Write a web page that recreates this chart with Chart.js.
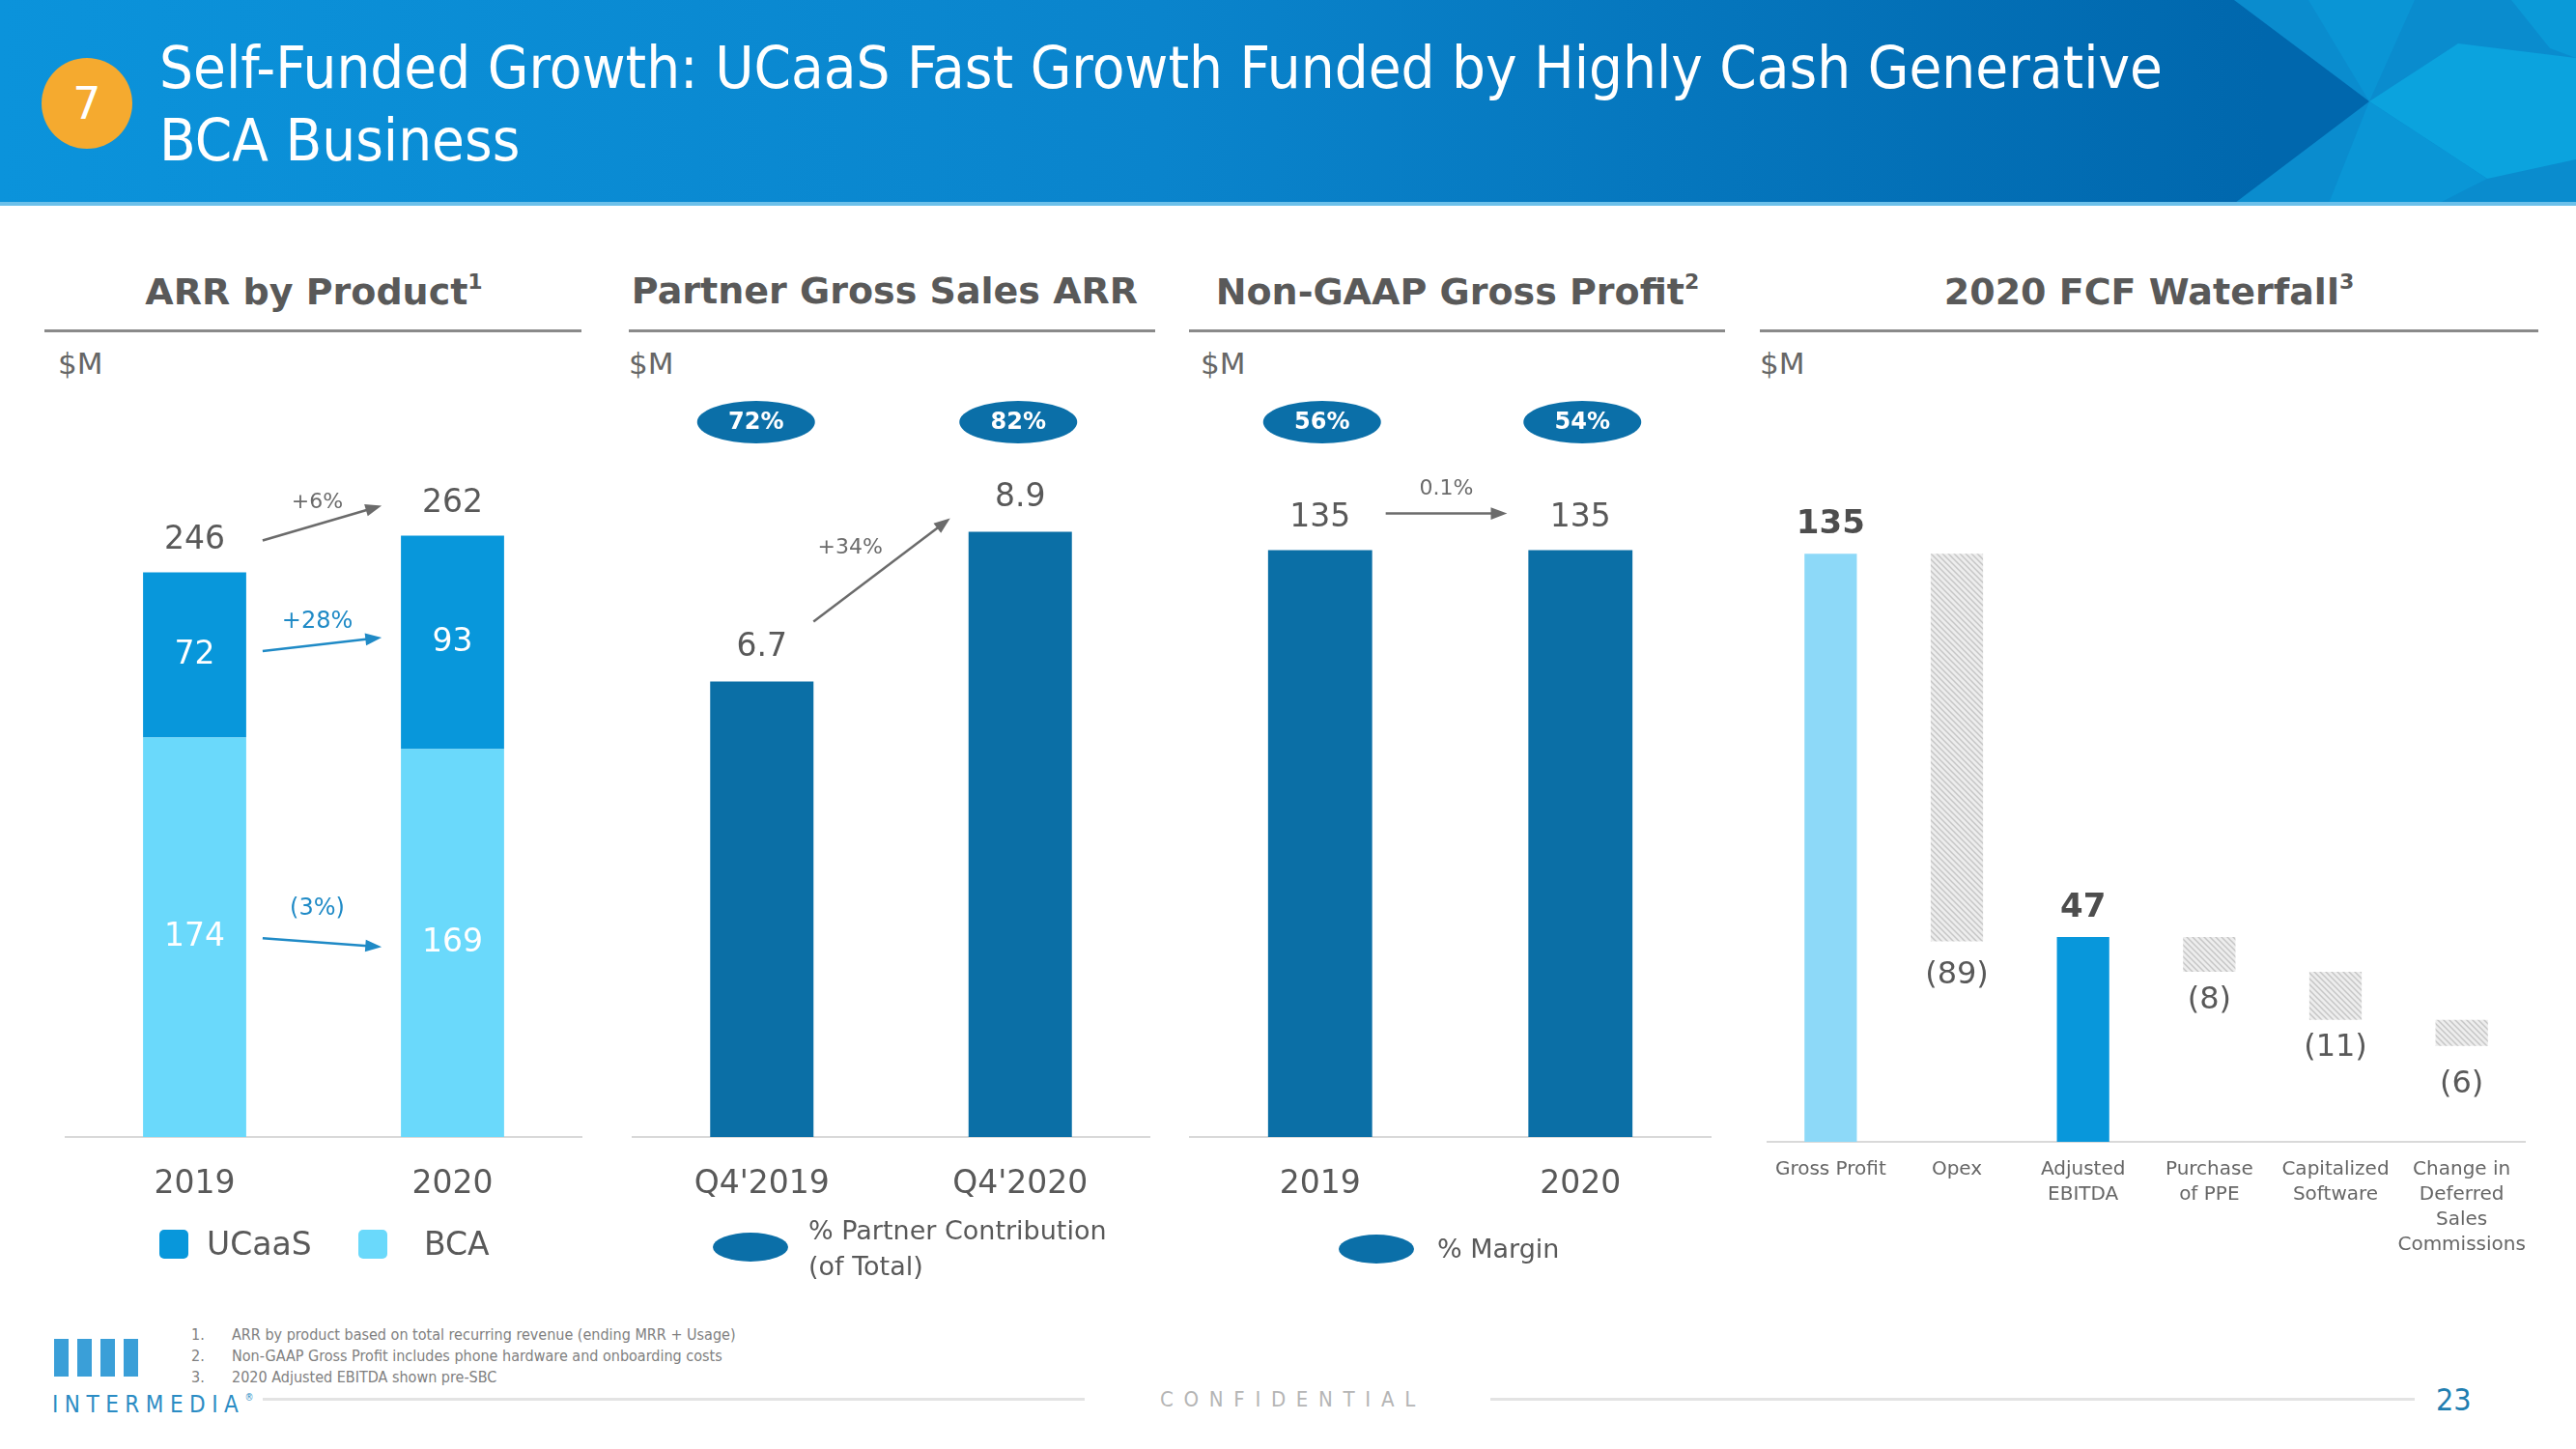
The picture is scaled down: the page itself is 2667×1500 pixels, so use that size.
<!DOCTYPE html>
<html>
<head>
<meta charset="utf-8">
<script src="https://cdn.jsdelivr.net/npm/chart.js@4.4.1/dist/chart.umd.min.js"></script>
<style>
  html, body { margin: 0; padding: 0; background: #fff; }
  body { width: 2667px; height: 1500px; position: relative; overflow: hidden; font-family: "DejaVu Sans", sans-serif; color: #595959; }
  .abs { position: absolute; }
  #banner { left: 0; top: 0; width: 2667px; height: 213px; }
  #badge7 { left: 43px; top: 60px; width: 94px; height: 94px; border-radius: 50%; background: #f5aa2f;
            color: #fff; font-size: 46px; line-height: 94px; text-align: center; }
  #title { left: 165px; top: 33px; color: #fff; font-family: "DejaVu Sans Condensed", "DejaVu Sans", sans-serif;
           font-size: 60px; line-height: 75px; white-space: nowrap; transform-origin: left top; }
  .sect { font-weight: bold; font-size: 38px; color: #595959; white-space: nowrap; transform: translate(-50%, -50%); }
  .sect sup { font-size: 22px; font-weight: bold; vertical-align: 16px; }
  .rule { height: 3px; background: #8a8a8a; top: 341px; }
  .unit { top: 358px; font-size: 31px; color: #666; }
  canvas { position: absolute; top: 350px; }
  .leg { font-size: 33px; color: #595959; white-space: nowrap; }
  .sq { width: 30px; height: 30px; border-radius: 5px; }
  .oval { width: 78px; height: 30px; border-radius: 50%; background: #0b6fa8; }
  .leg2 { font-size: 27px; line-height: 37px; color: #595959; white-space: nowrap; }
  .foot { font-family: "DejaVu Sans Condensed", "DejaVu Sans", sans-serif; font-size: 16px; color: #808080; white-space: nowrap; }
  .fline { height: 3px; background: #e3e3e3; top: 1447px; }
</style>
</head>
<body>

<svg id="banner" class="abs" viewBox="0 0 2667 213" width="2667" height="213">
  <defs>
    <linearGradient id="bg" x1="0" y1="0" x2="1" y2="0">
      <stop offset="0" stop-color="#0b93db"/>
      <stop offset="0.45" stop-color="#0a84cc"/>
      <stop offset="0.88" stop-color="#0067ad"/>
      <stop offset="1" stop-color="#0067ad"/>
    </linearGradient>
  </defs>
  <rect x="0" y="0" width="2667" height="213" fill="url(#bg)"/>
  <polygon points="2313,0 2667,0 2667,213 2310,213 2453,105" fill="#0a8cce"/>
  <polygon points="2390,0 2500,0 2453,105" fill="#0a95d5"/>
  <polygon points="2453,105 2545,45 2667,60 2667,165 2575,185" fill="#0ba3de"/>
  <polygon points="2453,105 2575,185 2520,213 2410,213" fill="#0a96d6"/>
  <polygon points="2600,0 2667,0 2667,60 2640,50" fill="#0a9ad8"/>
  <rect x="0" y="209" width="2667" height="4" fill="#6cc0ea"/>
</svg>
<div id="badge7" class="abs">7</div>
<div id="title" class="abs"><span id="t1">Self-Funded Growth: UCaaS Fast Growth Funded by Highly Cash Generative</span><br>BCA Business</div>

<!-- section headers -->
<div class="abs sect" style="left:325px; top:301px;">ARR by Product<sup>1</sup></div>
<div class="abs sect" style="left:916px; top:301px;">Partner Gross Sales ARR</div>
<div class="abs sect" style="left:1509px; top:301px;">Non-GAAP Gross Profit<sup>2</sup></div>
<div class="abs sect" style="left:2225px; top:301px;">2020 FCF Waterfall<sup>3</sup></div>
<div class="abs rule" style="left:46px; width:556px;"></div>
<div class="abs rule" style="left:651px; width:545px;"></div>
<div class="abs rule" style="left:1231px; width:555px;"></div>
<div class="abs rule" style="left:1822px; width:806px;"></div>
<div class="abs unit" style="left:60px;">$M</div>
<div class="abs unit" style="left:651px;">$M</div>
<div class="abs unit" style="left:1243px;">$M</div>
<div class="abs unit" style="left:1822px;">$M</div>

<canvas id="c1" width="610" height="980" style="left:20px;"></canvas>
<canvas id="c2" width="590" height="980" style="left:630px;"></canvas>
<canvas id="c3" width="580" height="980" style="left:1220px;"></canvas>
<canvas id="c4" width="860" height="980" style="left:1800px;"></canvas>

<!-- legends -->
<div class="abs sq" style="left:165px; top:1273px; background:#0897db;"></div>
<div class="abs leg" style="left:214px; top:1268px;">UCaaS</div>
<div class="abs sq" style="left:371px; top:1273px; background:#6ad9fb;"></div>
<div class="abs leg" style="left:439px; top:1268px;">BCA</div>

<div class="abs oval" style="left:738px; top:1276px;"></div>
<div class="abs leg2" style="left:837px; top:1255px;">% Partner Contribution<br>(of Total)</div>

<div class="abs oval" style="left:1386px; top:1278px;"></div>
<div class="abs leg2" style="left:1488px; top:1274px;">% Margin</div>

<!-- footer -->
<div class="abs" style="left:56px; top:1386px; width:15px; height:39px; background:#3a9fd8;"></div>
<div class="abs" style="left:80px; top:1386px; width:15px; height:39px; background:#3a9fd8;"></div>
<div class="abs" style="left:104px; top:1386px; width:15px; height:39px; background:#3a9fd8;"></div>
<div class="abs" style="left:128px; top:1386px; width:15px; height:39px; background:#3a9fd8;"></div>
<div class="abs" style="left:54px; top:1440px; font-size:24px; letter-spacing:6.5px; color:#2b8cc4; font-family:'DejaVu Sans Condensed','DejaVu Sans',sans-serif;">INTERMEDIA<span style="font-size:10px; vertical-align:12px; letter-spacing:0;">®</span></div>

<div class="abs foot" style="left:198px; top:1371px; line-height:22px;">1.<br>2.<br>3.</div>
<div class="abs foot" style="left:240px; top:1371px; line-height:22px;">ARR by product based on total recurring revenue (ending MRR + Usage)<br>Non-GAAP Gross Profit includes phone hardware and onboarding costs<br>2020 Adjusted EBITDA shown pre-SBC</div>

<div class="abs fline" style="left:272px; width:851px;"></div>
<div class="abs" style="left:1201px; top:1436px; font-size:22px; letter-spacing:10.7px; color:#b5b5b5; font-family:'DejaVu Sans Condensed','DejaVu Sans',sans-serif;">CONFIDENTIAL</div>
<div class="abs fline" style="left:1543px; width:957px;"></div>
<div class="abs" style="left:2522px; top:1430px; font-size:32px; color:#1f7eb0; font-family:'DejaVu Sans Condensed','DejaVu Sans',sans-serif;">23</div>

<script>
// ---- data ----
const arrYears = ["2019", "2020"];
const ucaasArr = [72, 93];
const bcaArr = [174, 169];
const arrTotals = [246, 262];
const arrGrowth = ["+6%", "+28%", "(3%)"];   // total, UCaaS, BCA

const partnerQuarters = ["Q4'2019", "Q4'2020"];
const partnerArr = [6.7, 8.9];
const partnerPct = [72, 82];
const partnerGrowth = "+34%";

const gpYears = ["2019", "2020"];
const grossProfit = [135, 135];
const gpMargin = [56, 54];
const gpGrowth = "0.1%";

const fcfLabels = [["Gross Profit"], ["Opex"], ["Adjusted", "EBITDA"], ["Purchase", "of PPE"], ["Capitalized", "Software"], ["Change in", "Deferred", "Sales", "Commissions"]];
const fcfValues = [135, -89, 47, -8, -11, -6];
const fcfIsTotal = [true, false, true, false, false, false];

// ---- helpers ----
Chart.defaults.font.family = "'DejaVu Sans', sans-serif";
Chart.defaults.color = '#595959';

const GRAY = '#595959';

function arrow(ctx, x0, y0, x1, y1, color, lw) {
  const a = Math.atan2(y1 - y0, x1 - x0), h = 18;
  ctx.save();
  ctx.strokeStyle = color; ctx.fillStyle = color; ctx.lineWidth = lw || 2.5;
  ctx.beginPath();
  ctx.moveTo(x0, y0);
  ctx.lineTo(x1 - h * 0.8 * Math.cos(a), y1 - h * 0.8 * Math.sin(a));
  ctx.stroke();
  ctx.beginPath();
  ctx.moveTo(x1, y1);
  ctx.lineTo(x1 - h * Math.cos(a - 0.36), y1 - h * Math.sin(a - 0.36));
  ctx.lineTo(x1 - h * Math.cos(a + 0.36), y1 - h * Math.sin(a + 0.36));
  ctx.closePath();
  ctx.fill();
  ctx.restore();
}

function text(ctx, s, x, y, font, color) {
  ctx.font = font; ctx.fillStyle = color;
  ctx.textAlign = 'center'; ctx.textBaseline = 'middle';
  ctx.fillText(s, x, y);
}

function badge(ctx, s, x, y) {
  ctx.save();
  ctx.fillStyle = '#0b6fa8';
  ctx.beginPath(); ctx.ellipse(x, y, 61, 22, 0, 0, Math.PI * 2); ctx.fill();
  text(ctx, s, x, y + 1, "bold 24px 'DejaVu Sans'", '#fff');
  ctx.restore();
}

function hatch() {
  const c = document.createElement('canvas');
  c.width = 6; c.height = 6;
  const g = c.getContext('2d');
  g.fillStyle = '#ededed'; g.fillRect(0, 0, 6, 6);
  g.strokeStyle = '#c6c6c6'; g.lineWidth = 1.5;
  g.beginPath();
  g.moveTo(0, 0); g.lineTo(6, 6);
  g.moveTo(-3, 3); g.lineTo(3, 9);
  g.moveTo(3, -3); g.lineTo(9, 3);
  g.stroke();
  return g.createPattern(c, 'repeat');
}

function xAxis(h, fontSize, pad, color) {
  return {
    grid: { display: false, drawTicks: false },
    border: { display: true, color: '#d9d9d9', width: 2 },
    ticks: { font: { size: fontSize, lineHeight: 1.3 }, color: color || GRAY, padding: pad, autoSkip: false, maxRotation: 0 },
    afterFit(scale) { scale.height = h; }
  };
}

const baseOpts = {
  responsive: false,
  animation: false,
  plugins: { legend: { display: false }, tooltip: { enabled: false } }
};

// ---- chart 1: ARR by product ----
new Chart(document.getElementById('c1'), {
  type: 'bar',
  data: {
    labels: arrYears,
    datasets: [
      { label: 'BCA', data: bcaArr, backgroundColor: '#6ad9fb' },
      { label: 'UCaaS', data: ucaasArr, backgroundColor: '#0897db' }
    ]
  },
  options: {
    ...baseOpts,
    layout: { padding: { left: 48, right: 28, top: 50, bottom: 53 } },
    datasets: { bar: { categoryPercentage: 1, barPercentage: 0.4 } },
    scales: {
      x: { stacked: true, ...xAxis(100, 33, 28) },
      y: { stacked: true, display: false, min: 0, max: 327 }
    }
  },
  plugins: [{
    id: 'arrLabels',
    afterDatasetsDraw(chart) {
      const ctx = chart.ctx;
      const bca = chart.getDatasetMeta(0).data;
      const uc = chart.getDatasetMeta(1).data;
      const f = "33px 'DejaVu Sans'";
      const bcaMid = [], ucMid = [], totY = [];
      for (let i = 0; i < 2; i++) {
        bcaMid[i] = (bca[i].y + bca[i].base) / 2;
        ucMid[i] = (uc[i].y + uc[i].base) / 2;
        totY[i] = uc[i].y - 33;
        text(ctx, String(bcaArr[i]), bca[i].x, bcaMid[i], f, '#fff');
        text(ctx, String(ucaasArr[i]), uc[i].x, ucMid[i], f, '#fff');
        text(ctx, String(arrTotals[i]), uc[i].x, totY[i], f, GRAY);
      }
      const x0 = uc[0].x + uc[0].width / 2 + 17;
      const x1 = uc[1].x - uc[1].width / 2 - 20;
      const xm = (x0 + x1) / 2 - 5;
      arrow(ctx, x0, totY[0], x1, totY[1] + 2, '#6b6b6b', 2.5);
      text(ctx, arrGrowth[0], xm, (totY[0] + totY[1]) / 2 - 20, "22px 'DejaVu Sans'", '#6b6b6b');
      arrow(ctx, x0, ucMid[0] - 4, x1, ucMid[1] - 5, '#1f8ac6', 2.5);
      text(ctx, arrGrowth[1], xm, (ucMid[0] + ucMid[1]) / 2 - 28, "24px 'DejaVu Sans'", '#1f8ac6');
      arrow(ctx, x0, bcaMid[0] + 1, x1, bcaMid[1] + 4, '#1f8ac6', 2.5);
      text(ctx, arrGrowth[2], xm, (bcaMid[0] + bcaMid[1]) / 2 - 32, "24px 'DejaVu Sans'", '#1f8ac6');
    }
  }]
});

// ---- chart 2: partner gross sales ARR ----
new Chart(document.getElementById('c2'), {
  type: 'bar',
  data: { labels: partnerQuarters, datasets: [{ data: partnerArr, backgroundColor: '#0b6fa6' }] },
  options: {
    ...baseOpts,
    layout: { padding: { left: 25, right: 30, top: 50, bottom: 53 } },
    datasets: { bar: { categoryPercentage: 1, barPercentage: 0.4 } },
    scales: {
      x: xAxis(100, 33, 28),
      y: { display: false, min: 0, max: 11.04 }
    }
  },
  plugins: [{
    id: 'partnerLabels',
    afterDatasetsDraw(chart) {
      const ctx = chart.ctx;
      const bars = chart.getDatasetMeta(0).data;
      const top = chart.chartArea.top;
      bars.forEach((b, i) => {
        text(ctx, partnerArr[i].toFixed(1), b.x, b.y - 35, "33px 'DejaVu Sans'", GRAY);
        badge(ctx, partnerPct[i] + '%', b.x - 6 + i * 4, top + 37);
      });
      const x0 = bars[0].x + bars[0].width / 2, y0 = bars[0].y - 62;
      const x1 = bars[1].x - bars[1].width / 2 - 19, y1 = bars[1].y - 14;
      arrow(ctx, x0, y0, x1, y1, '#6b6b6b', 2.5);
      text(ctx, partnerGrowth, x0 + 38, y0 - 76, "22px 'DejaVu Sans'", '#6b6b6b');
    }
  }]
});

// ---- chart 3: non-GAAP gross profit ----
new Chart(document.getElementById('c3'), {
  type: 'bar',
  data: { labels: gpYears, datasets: [{ data: grossProfit, backgroundColor: '#0b6fa6' }] },
  options: {
    ...baseOpts,
    layout: { padding: { left: 12, right: 29, top: 50, bottom: 53 } },
    datasets: { bar: { categoryPercentage: 1, barPercentage: 0.4 } },
    scales: {
      x: xAxis(100, 33, 28),
      y: { display: false, min: 0, max: 172.7 }
    }
  },
  plugins: [{
    id: 'gpLabels',
    afterDatasetsDraw(chart) {
      const ctx = chart.ctx;
      const bars = chart.getDatasetMeta(0).data;
      const top = chart.chartArea.top;
      bars.forEach((b, i) => {
        text(ctx, String(grossProfit[i]), b.x, b.y - 33, "33px 'DejaVu Sans'", GRAY);
        badge(ctx, gpMargin[i] + '%', b.x + 2, top + 37);
      });
      const y = bars[0].y - 38;
      const x0 = bars[0].x + bars[0].width / 2 + 14;
      const x1 = bars[1].x - bars[1].width / 2 - 22;
      arrow(ctx, x0, y, x1, y, '#6b6b6b', 2.5);
      text(ctx, gpGrowth, (x0 + x1) / 2, y - 25, "22px 'DejaVu Sans'", '#6b6b6b');
    }
  }]
});

// ---- chart 4: FCF waterfall ----
const fcfRanges = [];
let level = 0;
fcfValues.forEach((v, i) => {
  if (fcfIsTotal[i]) { fcfRanges.push([0, v]); level = v; }
  else { fcfRanges.push([level + v, level]); level += v; }
});
const hatchFill = hatch();
const fcfColors = fcfValues.map((v, i) => fcfIsTotal[i] ? (i === 0 ? '#8dd9f8' : '#0897db') : hatchFill);
const negLabelGap = [0, 35, 0, 30, 29, 40];

new Chart(document.getElementById('c4'), {
  type: 'bar',
  data: { labels: fcfLabels, datasets: [{ data: fcfRanges, backgroundColor: fcfColors, borderSkipped: false }] },
  options: {
    ...baseOpts,
    layout: { padding: { left: 30, right: 46, top: 50, bottom: 28 } },
    datasets: { bar: { categoryPercentage: 1, barPercentage: 0.415 } },
    scales: {
      x: xAxis(120, 20, 16, '#666'),
      y: { display: false, min: 0, max: 173.4 }
    }
  },
  plugins: [{
    id: 'fcfLabels',
    afterDatasetsDraw(chart) {
      const ctx = chart.ctx;
      const bars = chart.getDatasetMeta(0).data;
      bars.forEach((b, i) => {
        const v = fcfValues[i];
        if (fcfIsTotal[i]) {
          text(ctx, String(v), b.x, Math.min(b.y, b.base) - 30, "bold 34px 'DejaVu Sans'", '#4d4d4d');
        } else {
          text(ctx, '(' + Math.abs(v) + ')', b.x, Math.max(b.y, b.base) + negLabelGap[i], "32px 'DejaVu Sans'", GRAY);
        }
      });
    }
  }]
});

// fit the header's first line to the slide's width
const t1 = document.getElementById('t1');
const w = t1.getBoundingClientRect().width;
document.getElementById('title').style.transform = 'scaleX(' + (2074 / w) + ')';
</script>
</body>
</html>
